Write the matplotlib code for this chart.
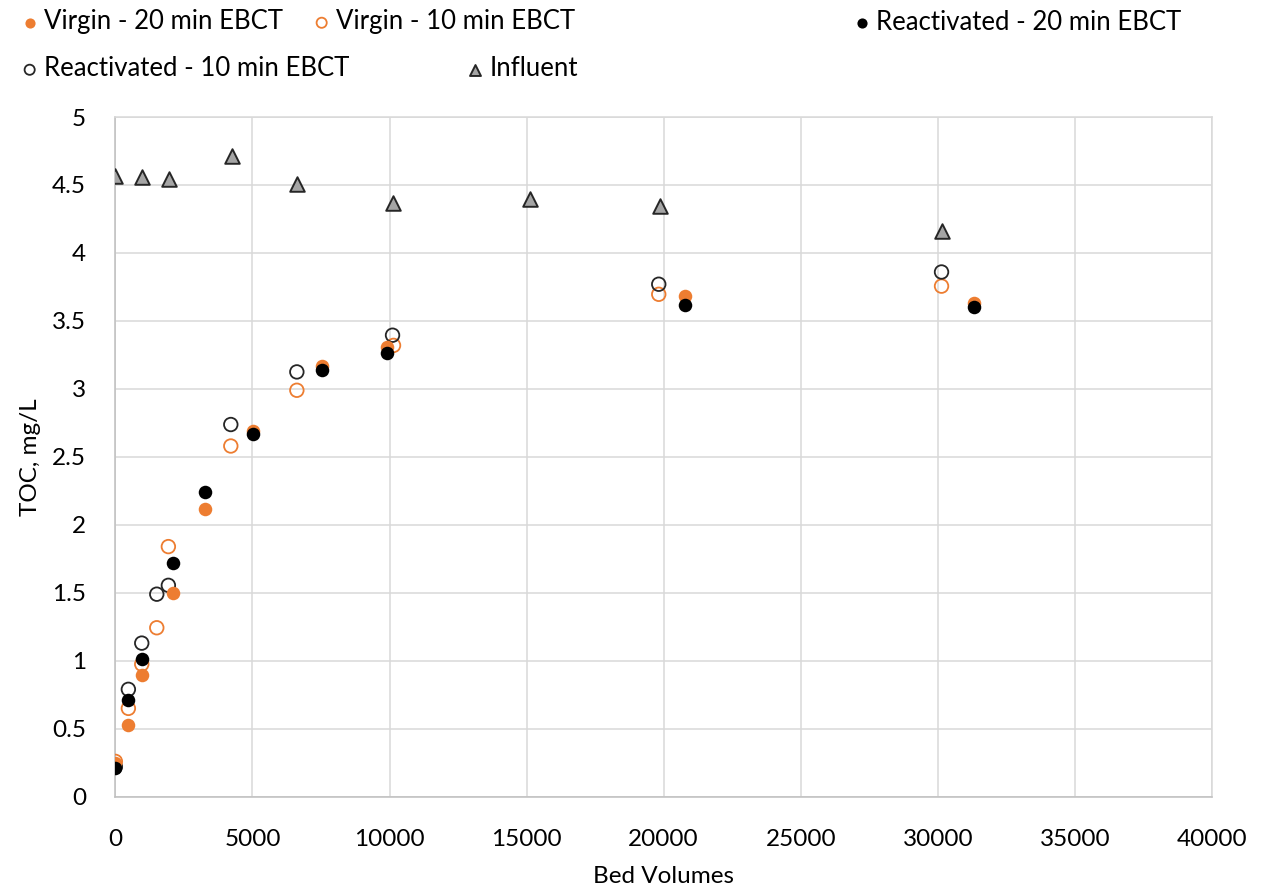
import matplotlib
matplotlib.use("Agg")
import matplotlib.pyplot as plt

plt.rcParams['font.family'] = ['Lato', 'DejaVu Sans']

# Bed volumes and TOC (mg/L) for each column run
bv_virgin20 = [0, 475, 963, 2095, 3274, 5036, 7555, 9905, 20766, 31320]
toc_virgin20 = [0.25, 0.53, 0.895, 1.50, 2.12, 2.69, 3.17, 3.31, 3.684, 3.633]

bv_virgin10 = [0, 475, 963, 1511, 1934, 4211, 6620, 10146, 19820, 30134]
toc_virgin10 = [0.26, 0.65, 0.975, 1.243, 1.84, 2.58, 2.99, 3.32, 3.696, 3.756]

bv_react20 = [0, 475, 963, 2095, 3274, 5036, 7555, 9905, 20766, 31320]
toc_react20 = [0.21, 0.71, 1.015, 1.716, 2.243, 2.67, 3.137, 3.265, 3.62, 3.60]

bv_react10 = [0, 475, 963, 1511, 1934, 4211, 6620, 10110, 19820, 30134]
toc_react10 = [0.22, 0.79, 1.13, 1.49, 1.555, 2.738, 3.125, 3.395, 3.77, 3.86]

bv_influent = [0, 985, 1971, 4248, 6642, 10124, 15135, 19854, 30134]
toc_influent = [4.564, 4.56, 4.547, 4.713, 4.505, 4.368, 4.40, 4.343, 4.16]

labels = ["Virgin - 20 min EBCT", "Virgin - 10 min EBCT",
          "Reactivated - 20 min EBCT", "Reactivated - 10 min EBCT", "Influent"]

x_ticks = [0, 5000, 10000, 15000, 20000, 25000, 30000, 35000, 40000]
y_ticks = [0, 0.5, 1, 1.5, 2, 2.5, 3, 3.5, 4, 4.5, 5]
y_tick_labels = ["0", "0.5", "1", "1.5", "2", "2.5", "3", "3.5", "4", "4.5", "5"]

ORANGE = "#ED7D31"
GRID = "#D9D9D9"
FS_TICK = 17.5
FS_LEG = 18.5

fig = plt.figure(figsize=(12.62, 8.94), dpi=100)
ax = fig.add_axes([0.0914, 0.1088, 0.8690, 0.7603])

s_circ = 95
h_v10 = ax.scatter(bv_virgin10, toc_virgin10, s=s_circ, facecolors="none",
                   edgecolors=ORANGE, linewidths=1.3, zorder=3)
h_r10 = ax.scatter(bv_react10, toc_react10, s=s_circ, facecolors="none",
                   edgecolors="#262626", linewidths=1.3, zorder=3)
h_v20 = ax.scatter(bv_virgin20, toc_virgin20, s=s_circ, color=ORANGE,
                   linewidths=0, zorder=4)
h_r20 = ax.scatter(bv_react20, toc_react20, s=s_circ, color="black",
                   linewidths=0, zorder=5)
h_inf = ax.scatter(bv_influent, toc_influent, s=110, marker="^",
                   facecolors="#A5A5A5", edgecolors="#262626",
                   linewidths=1.4, zorder=6)

ax.set_xlim(0, 40000)
ax.set_ylim(0, 5)
ax.set_xticks(x_ticks)
ax.set_xticklabels([str(v) for v in x_ticks])
ax.set_yticks(y_ticks)
ax.set_yticklabels(y_tick_labels)
ax.tick_params(axis="both", length=0, labelsize=FS_TICK, colors="black", pad=21)
ax.tick_params(axis="x", pad=23)
ax.grid(True, color=GRID, linewidth=1.1, zorder=0)
ax.set_axisbelow(True)
for sp in ax.spines.values():
    sp.set_color(GRID)
    sp.set_linewidth(1.1)
ax.spines["left"].set_color("#BFBFBF")
ax.spines["bottom"].set_color("#BFBFBF")

ax.set_xlabel("Bed Volumes", fontsize=FS_TICK, labelpad=12)
ax.set_ylabel("TOC, mg/L", fontsize=FS_TICK, labelpad=8)

# Legend entries laid out in two rows across the top
W, H = 1262.0, 894.0
entries = [
    (h_v20, labels[0], 30, 22),
    (h_v10, labels[1], 322, 22),
    (h_r20, labels[2], 862, 22),
    (h_r10, labels[3], 30, 69),
    (h_inf, labels[4], 475, 69),
]
for handle, text, mx, my in entries:
    fig.legend(handles=[handle], labels=[text], loc="center left",
               bbox_to_anchor=((mx - 7.4) / W, 1 - my / H),
               frameon=False, fontsize=FS_LEG, handlelength=0.55,
               handletextpad=0.3, borderpad=0, borderaxespad=0,
               scatterpoints=1, markerscale=0.75)

fig.savefig("out.png", dpi=100)
